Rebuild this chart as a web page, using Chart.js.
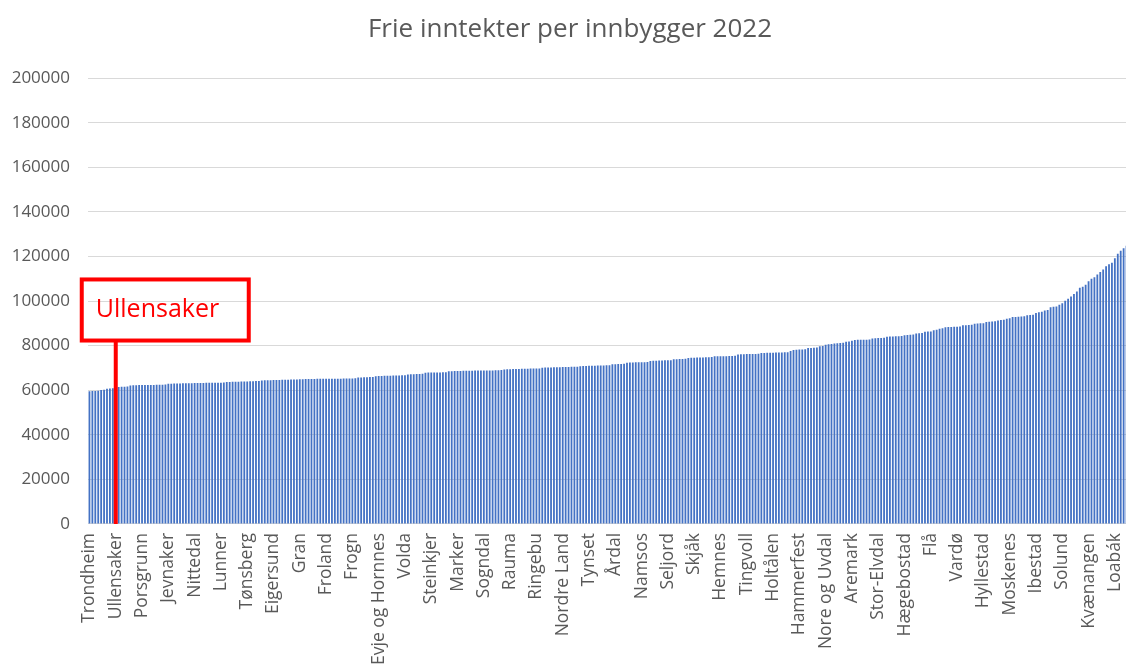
<!DOCTYPE html>
<html lang="no">
<head>
<meta charset="utf-8">
<title>Frie inntekter per innbygger 2022</title>
<script src="https://cdn.jsdelivr.net/npm/chart.js@4.4.1/dist/chart.umd.min.js"></script>
<style>
    html, body { margin: 0; padding: 0; background: #ffffff; }
    #wrap { width: 1126px; height: 666px; overflow: hidden; position: relative; }
    #holder { width: 1156px; height: 666px; position: absolute; left: 0; top: 0; }
</style>
</head>
<body>
<div id="wrap">
    <div id="holder"><canvas id="frieChart"></canvas></div>
</div>
<script>
// Frie inntekter per innbygger 2022 - kommuner sortert stigende
const chartTitle = "Frie inntekter per innbygger 2022";

// kun hver 9. kommune har navn på aksen
const shownLabels = [
    "Trondheim", "Ullensaker", "Porsgrunn", "Jevnaker", "Nittedal", "Lunner", "Tønsberg", "Eigersund",
    "Gran", "Froland", "Frogn", "Evje og Hornnes", "Volda", "Steinkjer", "Marker", "Sogndal", "Rauma",
    "Ringebu", "Nordre Land", "Tynset", "Årdal", "Namsos", "Seljord", "Skjåk", "Hemnes", "Tingvoll",
    "Holtålen", "Hammerfest", "Nore og Uvdal", "Aremark", "Stor-Elvdal", "Hægebostad", "Flå", "Vardø",
    "Hyllestad", "Moskenes", "Ibestad", "Solund", "Kvænangen", "Loabák"
];
const labelStep = 9;

// kroner per innbygger, lest av figuren
const frieInntekter = [
    59500, 59600, 59700, 59800,
    60100, 60200,
    60700, 60800, 60900,
    61200,
    61500, 61600, 61600, 61700,
    62100, 62200, 62200, 62300, 62300, 62300, 62400, 62400, 62400, 62500, 62500, 62500, 62600,
    62900, 62900, 63000, 63000, 63000, 63100, 63100, 63100, 63100, 63200,
    63200, 63200, 63200, 63300, 63300, 63300, 63400, 63400, 63400, 63500,
    63700, 63700, 63800, 63800, 63800, 63900, 63900, 63900, 64000, 64000, 64100, 64100,
    64400, 64500, 64500, 64500, 64600, 64600, 64600, 64700, 64700, 64700, 64800, 64800, 64800,
    64900, 64900, 65000, 65000, 65000, 65000, 65100, 65100, 65100, 65100,
    65100, 65200, 65200, 65200, 65200, 65300, 65300, 65300, 65300, 65400,
    65700, 65700, 65800, 65800, 65900, 65900,
    66300, 66400, 66400, 66500, 66500, 66500, 66600, 66600, 66600, 66700, 66700,
    67100, 67200, 67200, 67300, 67300, 67400,
    67800, 67900, 67900, 68000, 68000, 68000, 68100, 68100,
    68500, 68500, 68600, 68600, 68600, 68700, 68700, 68700, 68700, 68800,
    68800, 68800, 68800, 68900, 68900, 68900, 69000, 69000, 69100,
    69300, 69400, 69400, 69500, 69500, 69500, 69600, 69600, 69600, 69700, 69700, 69700, 69800,
    70100, 70200, 70200, 70200, 70300, 70300, 70300, 70400, 70400, 70400, 70500, 70500, 70500,
    70800, 70900, 70900, 71000, 71000, 71000, 71100, 71100, 71100, 71200, 71200,
    71600, 71700, 71800, 71800, 71900,
    72300, 72400, 72400, 72500, 72500, 72600, 72600, 72700,
    73100, 73200, 73200, 73300, 73300, 73400, 73400, 73500,
    73900, 73900, 74000, 74000, 74100,
    74500, 74600, 74600, 74700, 74700, 74700, 74800, 74800, 74900,
    75200, 75200, 75300, 75300, 75300, 75400, 75400, 75500,
    76000, 76100, 76100, 76200, 76200, 76300, 76300, 76400,
    76700, 76700, 76800, 76800, 76800, 76900, 76900, 76900, 77000, 77000,
    77600,
    78100, 78200, 78300, 78300, 78400,
    78900, 79000, 79100, 79200,
    79700, 79900,
    80400, 80600, 80700,
    81000, 81100, 81200, 81300,
    81700, 81900, 82200,
    82500, 82600, 82600, 82700, 82700, 82800,
    83200, 83300, 83400, 83400, 83500,
    84000, 84100, 84100, 84200, 84200, 84300,
    84700, 84800, 84900, 85000,
    85400, 85600, 85700,
    86200, 86300, 86400,
    86900, 87100,
    87600, 87800,
    88300, 88400, 88400, 88500, 88500, 88600,
    89100, 89200, 89300, 89400,
    89800, 89900, 90000, 90100,
    90600, 90700, 90800, 90900,
    91300, 91500, 91600,
    92100, 92300,
    92800, 92900, 93000, 93100, 93200,
    93600, 93800, 93900,
    94700, 95000, 95200,
    95800, 96000,
    97200, 97400, 97600,
    98300,
    99000,
    100200, 101000, 102000, 103200, 104300, 106000, 106400, 107300, 108900, 110000, 110700,
    111900, 113000, 114200, 115600, 116500, 117200, 119200, 121200, 122600, 123700, 124800
];

const yTicks = [0, 20000, 40000, 60000, 80000, 100000, 120000, 140000, 160000, 180000, 200000];

// markering av Ullensaker
const highlightIndex = 9;
const highlightText = "Ullensaker";
const highlightBoxTop = 109700;
const highlightBoxBottom = 82300;

const kommuner = frieInntekter.map(function (v, i) {
    return (i % labelStep === 0 && shownLabels[i / labelStep]) ? shownLabels[i / labelStep] : "";
});

Chart.defaults.font.family = "'Open Sans', 'Liberation Sans', sans-serif";
Chart.defaults.color = "#595959";

const highlightPlugin = {
    id: "highlightPlugin",
    afterDatasetsDraw: function (chart) {
        const ctx = chart.ctx;
        const xs = chart.scales.x;
        const ys = chart.scales.y;
        const x = xs.getPixelForValue(highlightIndex);
        const top = ys.getPixelForValue(highlightBoxTop);
        const bottom = ys.getPixelForValue(highlightBoxBottom);
        ctx.save();
        ctx.strokeStyle = "#FF0000";
        ctx.lineWidth = 4;
        ctx.beginPath();
        ctx.moveTo(x, bottom);
        ctx.lineTo(x, chart.chartArea.bottom);
        ctx.stroke();
        ctx.strokeRect(x - 34, top, 167, bottom - top);
        ctx.fillStyle = "#FF0000";
        ctx.font = "25px 'Open Sans', sans-serif";
        ctx.textBaseline = "middle";
        ctx.textAlign = "left";
        ctx.fillText(highlightText, x - 20, (top + bottom) / 2);
        ctx.restore();
    }
};

new Chart(document.getElementById("frieChart"), {
    type: "bar",
    data: {
        labels: kommuner,
        datasets: [{
            label: chartTitle,
            data: frieInntekter,
            backgroundColor: "#4472C4",
            barPercentage: 0.62,
            categoryPercentage: 1.0
        }]
    },
    options: {
        responsive: true,
        maintainAspectRatio: false,
        animation: false,
        layout: { padding: { left: 12, right: 28, top: 0, bottom: 0 } },
        plugins: {
            legend: { display: false },
            tooltip: { enabled: false },
            title: {
                display: true,
                text: chartTitle,
                color: "#595959",
                font: { size: 26, weight: "normal" },
                padding: { top: 14, bottom: 33 }
            }
        },
        scales: {
            x: {
                grid: { display: false },
                border: { display: true, color: "#D9D9D9" },
                ticks: {
                    autoSkip: false,
                    minRotation: 90,
                    maxRotation: 90,
                    padding: 1,
                    color: "#595959",
                    font: { size: 17.5 },
                    callback: function (value, index) { return kommuner[index]; }
                }
            },
            y: {
                min: 0,
                max: 200000,
                afterBuildTicks: function (axis) {
                    axis.ticks = yTicks.map(function (v) { return { value: v }; });
                },
                afterFit: function (axis) {
                    axis.width = 76;
                },
                grid: { color: "#D9D9D9", drawTicks: false },
                border: { display: false },
                ticks: {
                    padding: 18,
                    color: "#595959",
                    font: { size: 17 },
                    callback: function (value) { return String(value); }
                }
            }
        }
    },
    plugins: [highlightPlugin]
});
</script>
</body>
</html>
